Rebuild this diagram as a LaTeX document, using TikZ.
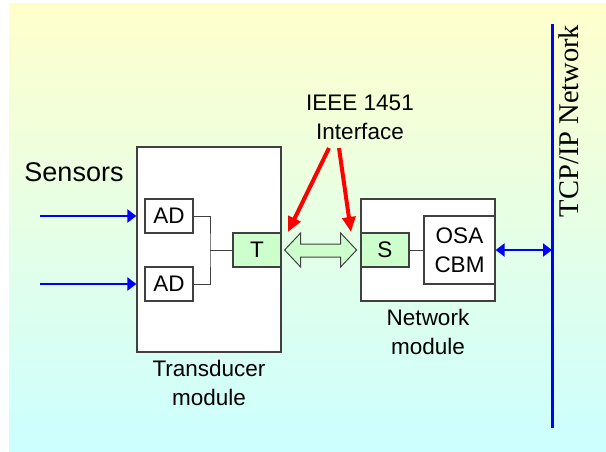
\documentclass[tikz,border=0pt]{standalone}
\usepackage{fontspec}
\setmainfont{Liberation Sans}
\newfontfamily\serifnet{Liberation Serif}
\usetikzlibrary{arrows.meta,calc}
\definecolor{bgtop}{RGB}{255,255,204}
\definecolor{bgbot}{RGB}{204,255,255}
\definecolor{boxgreen}{RGB}{204,255,204}
\definecolor{edgegray}{RGB}{64,64,64}
\definecolor{netblue}{RGB}{0,0,255}
\definecolor{arrred}{RGB}{255,0,0}
\begin{document}
\begin{tikzpicture}[x=1pt,y=-1pt,
  box/.style={draw=edgegray,line width=1.2pt,fill=white,inner sep=0pt},
  gbox/.style={box,fill=boxgreen},
  txt/.style={font=\fontsize{22.5}{29}\selectfont,inner sep=0pt,align=center},
  wire/.style={draw=edgegray,line width=1pt},
  bluearrow/.style={draw=netblue,line width=2.8pt,-{Triangle[width=13pt,length=9pt]}},
  bluedouble/.style={draw=netblue,line width=2.8pt,{Triangle[width=13pt,length=9pt]}-{Triangle[width=13pt,length=9pt]}},
  redarrow/.style={draw=arrred,line width=4pt,-{Triangle[width=13pt,length=15pt]}},
  hollow/.style={draw=edgegray,line width=1pt,fill=boxgreen,line join=miter},
]
\useasboundingbox (0,0) rectangle (606,452);
\shade[top color=bgtop,bottom color=bgbot] (9,4) rectangle (606,452);

% transducer module
\node[box,minimum width=144pt,minimum height=205pt] (trans) at (209,249.5) {};
\node[box,txt,minimum width=48pt,minimum height=34pt] (ad1) at (169,216) {AD};
\node[box,txt,minimum width=48pt,minimum height=34pt] (ad2) at (169,284) {AD};
\node[gbox,txt,minimum width=48pt,minimum height=34pt] (T) at (257,250) {T};
\coordinate (j) at (210,250);
\draw[wire] (ad1.east) -| (j) |- (ad2.east);
\draw[wire] (j) -- (T.west);
\node[txt] (translbl) at (209,382.5) {Transducer\\module};

% network module
\node[box,minimum width=134pt,minimum height=102pt] (net) at (428,250) {};
\node[gbox,txt,minimum width=48pt,minimum height=34pt] (S) at (385,250) {S};
\node[box,txt,minimum width=71pt,minimum height=68pt] (osa) at (459.5,250) {OSA\\CBM};
\draw[wire] (S.east) -- (osa.west);
\node[txt] (netlbl) at (428,331.5) {Network\\module};

% sensors
\node[inner sep=0pt,font=\fontsize{27}{30}\selectfont] (sensors) at (74,172) {Sensors};
\coordinate (s1) at (40,216);
\coordinate (s2) at (40,284);
\draw[bluearrow] (s1) -- (s1 -| trans.west);
\draw[bluearrow] (s2) -- (s2 -| trans.west);

% hollow double arrow between T and S
\draw[hollow] (T.east) ++(3,0) -- ++(16,-17) -- ++(0,11) -- ++(40,0) -- ++(0,-11)
  -- ++(16,17) -- ++(-16,17) -- ++(0,-10) -- ++(-40,0) -- ++(0,10) -- cycle;

% IEEE 1451 label and red arrows
\node[txt] (ieee) at (360,117.5) {IEEE 1451\\Interface};
\coordinate (r1s) at (329,148);
\coordinate (r1e) at (288,232);
\coordinate (r2s) at (339,148);
\coordinate (r2e) at (351,232);
\draw[redarrow] (r1s) -- (r1e);
\draw[redarrow] (r2s) -- (r2e);

% TCP/IP network
\coordinate (tcptop) at (552,24);
\coordinate (tcpbot) at (552,428);
\draw[draw=netblue,line width=3pt] (tcptop) -- (tcpbot);
\draw[bluedouble] (osa.east) -- (osa.east -| tcptop);
\node[rotate=90,inner sep=0pt,font=\serifnet\fontsize{28.5}{30}\selectfont] (tcplbl) at (569,121) {TCP/IP Network};
\end{tikzpicture}
\end{document}
